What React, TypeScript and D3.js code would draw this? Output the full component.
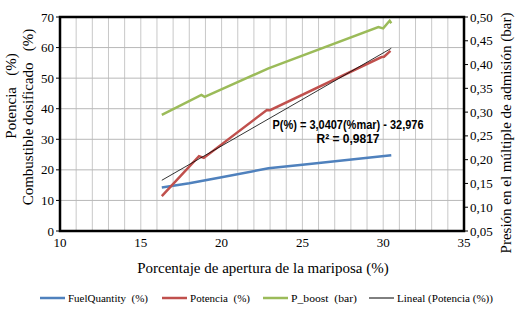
import React from "react";
import * as d3 from "d3";

const xTicks = [10, 15, 20, 25, 30, 35];
const yLeftTicks = [0, 10, 20, 30, 40, 50, 60, 70];
const yRightTicks = [0.05, 0.1, 0.15, 0.2, 0.25, 0.3, 0.35, 0.4, 0.45, 0.5];

const fuelX = [16.3, 18.0, 20.0, 22.9, 25.0, 30.5];
const fuelY = [14.2, 15.6, 17.6, 20.5, 21.7, 24.8];

const potX = [16.3, 18.6, 18.9, 22.8, 23.0, 29.9, 30.05, 30.45];
const potY = [11.4, 24.5, 23.9, 39.6, 39.5, 56.9, 57.0, 58.9];

const boostX = [16.3, 18.75, 18.95, 22.9, 29.7, 30.0, 30.4, 30.5];
const boostY = [0.294, 0.336, 0.332, 0.392, 0.479, 0.476, 0.492, 0.487];

const trendSlope = 3.0407;
const trendIntercept = -32.976;
const trendX = [16.3, 30.5];

const legendItems = [
  { label: "FuelQuantity  (%)", color: "#4f81bd", w: 2.5, tw: 80 },
  { label: "Potencia  (%)", color: "#c0504d", w: 2.5, tw: 60 },
  { label: "P_boost  (bar)", color: "#9bbb59", w: 2.5, tw: 66 },
  { label: "Lineal (Potencia (%))", color: "#000000", w: 1, tw: 96 },
];

export default function App() {
  const W = 522, H = 312;
  const L = 60, R = 464, T = 17, B = 231;
  const x = d3.scaleLinear().domain([10, 35]).range([L, R]);
  const yl = d3.scaleLinear().domain([0, 70]).range([B, T]);
  const yr = d3.scaleLinear().domain([0.05, 0.5]).range([B, T]);

  const lineL = (xs: number[], ys: number[]) =>
    d3.line<number>().x((d) => x(d)).y((_, i) => yl(ys[i]))(xs) || "";
  const lineR = (xs: number[], ys: number[]) =>
    d3.line<number>().x((d) => x(d)).y((_, i) => yr(ys[i]))(xs) || "";

  const minor = d3.range(11, 35, 1);
  const serif = "'Liberation Serif', 'DejaVu Serif', serif";
  const legendX = [40, 162, 263, 369];

  return (
    <svg width={W} height={H} style={{ position: "absolute", left: 0, top: 0, background: "#fff" }}>
      <rect width={W} height={H} fill="#fff" />
      {minor.map((v) => (
        <line key={"vx" + v} x1={x(v)} x2={x(v)} y1={T} y2={B} stroke="#c8c8c8" strokeWidth={1} />
      ))}
      {yLeftTicks.slice(1, -1).map((v) => (
        <line key={"hy" + v} x1={L} x2={R} y1={yl(v)} y2={yl(v)} stroke="#b8b8b8" strokeWidth={1} />
      ))}
      <path d={lineL(fuelX, fuelY)} fill="none" stroke="#4f81bd" strokeWidth={2.5} />
      <path d={lineR(boostX, boostY)} fill="none" stroke="#9bbb59" strokeWidth={2.5} />
      <path d={lineL(potX, potY)} fill="none" stroke="#c0504d" strokeWidth={2.5} />
      <path
        d={d3.line<number>().x((d) => x(d)).y((d) => yl(trendSlope * d + trendIntercept))(trendX) || ""}
        fill="none"
        stroke="#000"
        strokeWidth={0.8}
      />
      <rect x={L} y={T} width={R - L} height={B - T} fill="none" stroke="#000" strokeWidth={2.5} />
      {yLeftTicks.map((v) => (
        <g key={"yl" + v}>
          <line x1={L - 4} x2={L} y1={yl(v)} y2={yl(v)} stroke="#000" strokeWidth={1} />
          <text x={L - 6} y={yl(v)} dy="0.35em" textAnchor="end" fontFamily={serif} fontSize={13}>
            {v}
          </text>
        </g>
      ))}
      {yRightTicks.map((v) => (
        <g key={"yr" + v}>
          <line x1={R} x2={R + 4} y1={yr(v)} y2={yr(v)} stroke="#000" strokeWidth={1} />
          <text x={R + 6} y={yr(v)} dy="0.35em" textAnchor="start" fontFamily={serif} fontSize={13}>
            {v.toFixed(2).replace(".", ",")}
          </text>
        </g>
      ))}
      {xTicks.map((v) => (
        <text key={"xt" + v} x={x(v)} y={B + 16} textAnchor="middle" fontFamily={serif} fontSize={13}>
          {v}
        </text>
      ))}
      <text x={263} y={273} textAnchor="middle" fontFamily={serif} fontSize={15}>
        Porcentaje de apertura de la mariposa  (%)
      </text>
      <text transform="translate(16,96) rotate(-90)" textAnchor="middle" fontFamily={serif} fontSize={15} style={{ whiteSpace: "pre" }}>
        {"Potencia   (%)"}
      </text>
      <text transform="translate(33,117) rotate(-90)" textAnchor="middle" fontFamily={serif} fontSize={15} style={{ whiteSpace: "pre" }}>
        {"Combustible dosificado   (%)"}
      </text>
      <text transform="translate(511,133) rotate(-90)" textAnchor="middle" fontFamily={serif} fontSize={15}>
        Presión en el múltiple de admisión (bar)
      </text>
      <text x={348} y={129} textAnchor="middle" fontFamily="'Liberation Sans', Arial, sans-serif" fontWeight="bold" fontSize={12} textLength={151} lengthAdjust="spacingAndGlyphs">
        P(%) = 3,0407(%mar) - 32,976
      </text>
      <text x={348} y={143} textAnchor="middle" fontFamily="'Liberation Sans', Arial, sans-serif" fontWeight="bold" fontSize={12}>
        R² = 0,9817
      </text>
      {legendItems.map((it, i) => (
        <g key={it.label}>
          <line x1={legendX[i]} x2={legendX[i] + 25} y1={298} y2={298} stroke={it.color} strokeWidth={it.w} />
          <text x={legendX[i] + 28} y={301.5} fontFamily={serif} fontSize={11} style={{ whiteSpace: "pre" }} textLength={it.tw} lengthAdjust="spacingAndGlyphs">
            {it.label}
          </text>
        </g>
      ))}
    </svg>
  );
}
